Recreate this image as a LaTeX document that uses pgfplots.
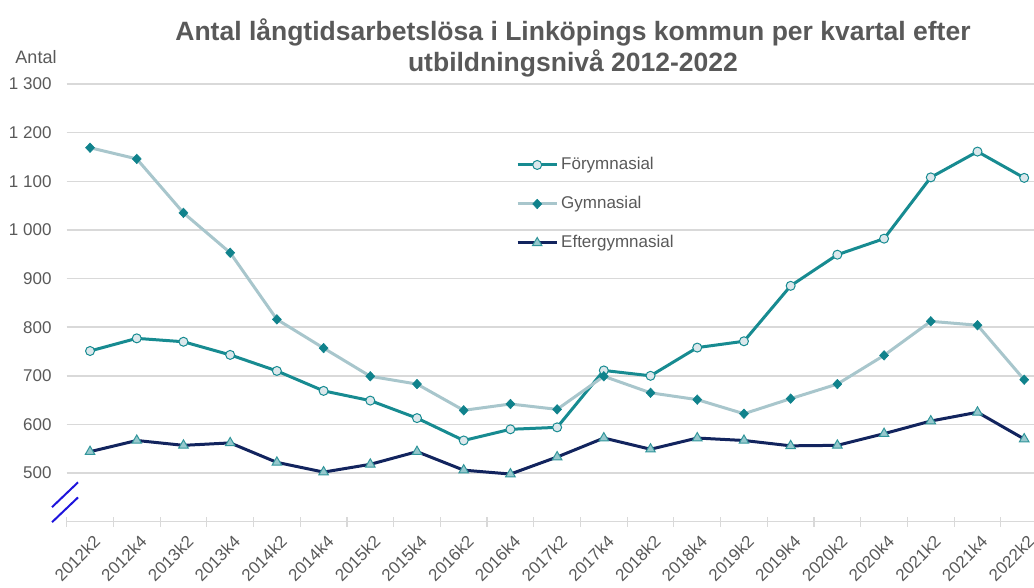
\documentclass[border=0pt]{standalone}
\usepackage{pgfplots}
\pgfplotsset{compat=1.18}
\usepackage{pgfplotstable}
\usepackage{fontspec}
\setmainfont{Liberation Sans}
\definecolor{titlegray}{RGB}{89,89,89}
\definecolor{tickgray}{RGB}{89,89,89}
\definecolor{gridgray}{RGB}{217,217,217}
\definecolor{tealline}{RGB}{23,139,145}
\definecolor{circfill}{RGB}{220,232,236}
\definecolor{gymline}{RGB}{168,198,204}
\definecolor{diamfill}{RGB}{16,130,140}
\definecolor{navy}{RGB}{18,36,94}
\definecolor{trifill}{RGB}{150,200,205}
\definecolor{triedge}{RGB}{50,150,155}
\definecolor{breakblue}{RGB}{30,20,220}
\pgfplotstableread{
i fg gy eg
0 751 1169 544
1 777 1146 567
2 770 1035 557
3 743 953 562
4 710 816 522
5 669 757 502
6 649 699 518
7 613 683 544
8 567 629 506
9 590 642 498
10 594 631 533
11 711 699 572
12 700 665 549
13 758 651 572
14 771 622 567
15 885 653 556
16 949 683 557
17 982 742 581
18 1108 812 607
19 1161 804 625
20 1107 692 570
}\datatable
\begin{document}
\begin{tikzpicture}[x=1pt,y=1pt]
\path[use as bounding box] (0,0) rectangle (1034,587);
\node[font=\fontsize{26.5}{31}\selectfont\bfseries, text=titlegray, align=center] at (573,539.5) {Antal långtidsarbetslösa i Linköpings kommun per kvartal efter\\utbildningsnivå 2012-2022};
\node[font=\fontsize{18}{21}\selectfont, text=tickgray] at (36,530) {Antal};
\begin{axis}[
  at={(66.7pt,65.3pt)}, anchor=south west, scale only axis,
  width=967.3pt, height=437.7pt,
  xmin=-0.5, xmax=20.21, ymin=400, ymax=1300,
  clip=false,
  axis x line*=bottom, axis y line*=left,
  y axis line style={draw=none},
  x axis line style={draw=gridgray, line width=1.5pt},
  ymajorgrids, major grid style={draw=gridgray, line width=1.5pt},
  ytick={500,600,...,1300},
  yticklabels={500,600,700,800,900,1 000,1 100,1 200,1 300},
  xtick={0,...,20},
  xticklabels={2012k2,2012k4,2013k2,2013k4,2014k2,2014k4,2015k2,2015k4,2016k2,2016k4,2017k2,2017k4,2018k2,2018k4,2019k2,2019k4,2020k2,2020k4,2021k2,2021k4,2022k2},
  major tick length=0pt,
  extra x ticks={-0.5,0.5,...,20.0},
  extra x tick labels={},
  extra x tick style={major tick length=10pt, tick align=center, tick style={draw=gridgray, line width=1.2pt}},
  yticklabel style={font=\fontsize{17}{20}\selectfont, text=tickgray, anchor=east, inner sep=0pt, xshift=-15pt},
  xticklabel style={font=\fontsize{17}{20}\selectfont, text=tickgray, inner sep=0pt, xshift=7pt, yshift=-17pt, rotate=45, anchor=east},
  legend cell align=left,
  legend style={at={(0.4645,0.8332)}, anchor=north west, draw=none, fill=none, inner sep=0pt,
    row sep=23.5pt, column sep=3pt,
    nodes={inner sep=0pt, text height=12pt, text depth=3.5pt, anchor=west},
    font=\fontsize{17}{20}\selectfont, text=tickgray},
  legend image code/.code={\draw[mark repeat=2,mark phase=2,#1] plot coordinates {(0pt,0pt) (19.5pt,0pt) (39pt,0pt)};},
]
\addplot[tealline, line width=3pt, mark=*, mark size=4.5pt, mark options={fill=circfill, draw=tealline, line width=1pt}] table[x=i,y=fg] {\datatable};
\addlegendentry{Förymnasial}
\addplot[gymline, line width=3pt, mark=diamond*, mark size=4.8pt, mark options={fill=diamfill, draw=diamfill, xscale=1.25, line width=0.5pt}] table[x=i,y=gy] {\datatable};
\addlegendentry{Gymnasial}
\addplot[navy, line width=3pt, mark=triangle*, mark size=5.5pt, mark options={fill=trifill, draw=triedge, line width=1pt}] table[x=i,y=eg] {\datatable};
\addlegendentry{Eftergymnasial}
\draw[breakblue, line width=2pt] (axis cs:-0.814,430) -- (axis cs:-0.257,481);
\draw[breakblue, line width=2pt] (axis cs:-0.814,399) -- (axis cs:-0.257,450);
\end{axis}
\end{tikzpicture}
\end{document}
